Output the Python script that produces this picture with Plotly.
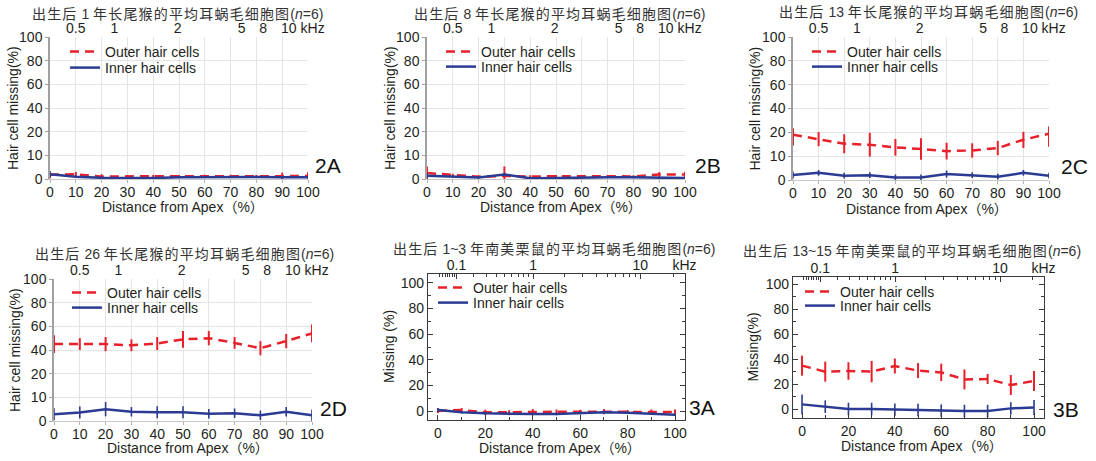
import math
import plotly.graph_objects as go

# ---------------- data ----------------
distance = [0, 10, 20, 30, 40, 50, 60, 70, 80, 90, 100]

# 2A  macaque, 1 year
a2_outer = [1.8, 2.0, 1.0, 1.2, 1.2, 1.2, 1.3, 1.3, 1.2, 1.2, 1.3]
a2_outer_err = [1.5, 1.0, 1.0, 0.5, 0.5, 0.5, 0.5, 0.5, 0.5, 1.5, 1.5]
a2_inner = [2.0, 1.0, 0.5, 0.4, 0.4, 0.7, 0.8, 0.8, 0.8, 0.7, 0.7]
a2_inner_err = [1.2, 0.5, 0.4, 0.4, 0.4, 0.4, 0.4, 0.4, 0.4, 0.4, 0.4]
# 2B  macaque, 8 years
b2_outer = [2.5, 1.6, 1.0, 1.3, 1.0, 1.2, 1.2, 1.2, 1.1, 1.9, 1.9]
b2_outer_err = [2.8, 0.6, 0.5, 4.0, 0.6, 0.5, 0.5, 0.5, 0.5, 1.0, 1.2]
b2_inner = [1.4, 0.9, 0.6, 1.9, 0.3, 0.4, 0.7, 0.7, 0.7, 0.4, 0.4]
b2_inner_err = [1.0, 0.5, 0.5, 0.8, 0.4, 0.4, 0.4, 0.4, 0.4, 0.4, 0.4]
# 2C  macaque, 13 years
c2_outer = [19.0, 17.2, 15.2, 14.8, 13.7, 13.0, 12.1, 12.4, 13.4, 16.9, 19.4]
c2_outer_err = [4.5, 3.0, 4.0, 5.0, 3.5, 4.5, 3.5, 3.0, 3.0, 3.5, 5.5]
c2_inner = [2.1, 3.0, 1.8, 2.0, 1.1, 1.1, 2.5, 2.0, 1.4, 3.0, 1.8]
c2_inner_err = [1.5, 1.2, 1.2, 1.2, 1.2, 1.2, 1.5, 1.2, 1.2, 1.2, 1.2]
# 2D  macaque, 26 years
d2_outer = [45.0, 45.0, 45.0, 44.0, 45.5, 49.0, 50.0, 46.0, 41.5, 47.5, 54.0]
d2_outer_err = [7.5, 5.0, 6.0, 5.0, 5.5, 7.0, 6.0, 5.0, 6.0, 6.0, 7.5]
d2_inner = [2.9, 3.6, 5.0, 3.9, 3.7, 3.7, 3.1, 3.3, 2.4, 3.9, 2.4]
d2_inner_err = [2.5, 2.5, 3.0, 2.0, 2.5, 2.5, 2.0, 2.0, 2.0, 2.0, 2.5]
# 3A  chinchilla, 1-3 years
a3_outer = [0.3, 0.8, -1.0, -0.8, -0.5, -0.8, -0.5, -0.5, -0.8, -0.8, -0.8]
a3_outer_err = [2.0, 1.5, 2.0, 1.5, 2.0, 2.0, 1.5, 2.0, 1.5, 2.0, 2.0]
a3_inner = [0.8, -1.0, -1.8, -2.3, -2.3, -2.3, -1.6, -1.0, -1.3, -2.0, -2.9]
a3_inner_err = [1.5, 1.0, 1.0, 1.0, 1.0, 1.0, 1.0, 1.0, 1.0, 1.0, 1.0]
# 3B  chinchilla, 13-15 years
b3_outer = [34.7, 29.9, 30.4, 29.9, 34.4, 30.7, 29.3, 23.7, 24.0, 19.2, 22.4]
b3_outer_err = [8.0, 8.0, 7.0, 8.5, 6.0, 6.0, 7.0, 8.0, 4.0, 8.0, 8.0]
b3_inner = [3.7, 1.9, 0.0, 0.0, -0.5, -0.8, -1.3, -1.6, -1.6, 0.5, 1.3]
b3_inner_err = [8.0, 5.0, 5.0, 5.0, 5.0, 5.0, 5.0, 5.0, 5.0, 5.0, 6.0]

# tick labels
monkey_y_ticks = [0, 10, 20, 40, 60, 80, 100]
monkey_freq_labels = ["0.5", "1", "2", "5", "8", "10 kHz"]
monkey_freq_pos = [10, 25, 49.5, 74.3, 82.6, 98]
chin_y_ticks = [0, 20, 40, 60, 80, 100]
chin_major_khz = [0.1, 1, 10]
chin_major_labels = ["0.1", "1", "10"]
chin_minor_khz = [0.03, 0.04, 0.05, 0.06, 0.07, 0.08, 0.09,
                  0.2, 0.3, 0.4, 0.5, 0.6, 0.7, 0.8, 0.9,
                  2, 3, 4, 5, 6, 7, 8, 9, 20]

titles = {
    "2A": "出生后 1 年长尾猴的平均耳蜗毛细胞图(<i>n</i>=6)",
    "2B": "出生后 8 年长尾猴的平均耳蜗毛细胞图(<i>n</i>=6)",
    "2C": "出生后 13 年长尾猴的平均耳蜗毛细胞图(<i>n</i>=6)",
    "2D": "出生后 26 年长尾猴的平均耳蜗毛细胞图(<i>n</i>=6)",
    "3A": "出生后 1~3 年南美栗鼠的平均耳蜗毛细胞图(<i>n</i>=6)",
    "3B": "出生后 13~15 年南美栗鼠的平均耳蜗毛细胞图(<i>n</i>=6)",
}

# ---------------- helpers ----------------
W, H = 1096, 461
RED = "#e8202a"
BLUE = "#2b3b93"
FONT = "Liberation Sans, Arial, Noto Sans CJK SC"
TXT = "#231f20"


def fx(p):
    return p / W


def fy(p):
    return 1 - p / H


def broken_scale(v):
    """Monkey panels: 0-20 spaced by 10, 20-100 spaced by 20."""
    return v / 10.0 if v <= 20 else 2 + (v - 20) / 20.0


def greenwood_pos(f_khz):
    """Chinchilla frequency-place map (% distance from apex)."""
    return 100 * math.log10(f_khz * 1000 / 163.5 + 0.85) / 2.1


def spaced(s):
    out = ""
    i = 0
    while i < len(s):
        if s[i] == "<":
            j = s.index(">", i)
            out += s[i:j + 1]
            i = j + 1
            continue
        out += s[i]
        if ord(s[i]) > 0x2E80:
            out += "\u200a"
        i += 1
    return out


panels = [
    dict(key="2A", kind="monkey", box=(50, 308, 37, 179), outer=a2_outer, oerr=a2_outer_err,
         inner=a2_inner, ierr=a2_inner_err, title_xy=(177, 14), ytitle="Hair cell missing(%)",
         ytitle_x=13, xtitle_xy=(183, 207), label_xy=(328, 165), leg=(105, 52, 68)),
    dict(key="2B", kind="monkey", box=(427, 685, 37, 179), outer=b2_outer, oerr=b2_outer_err,
         inner=b2_inner, ierr=b2_inner_err, title_xy=(559, 14), ytitle="Hair cell missing(%)",
         ytitle_x=390, xtitle_xy=(561, 207), label_xy=(708, 165), leg=(481, 52, 67)),
    dict(key="2C", kind="monkey", box=(793, 1049, 37, 180), outer=c2_outer, oerr=c2_outer_err,
         inner=c2_inner, ierr=c2_inner_err, title_xy=(928, 12), ytitle="Hair cell missing(%)",
         ytitle_x=754, xtitle_xy=(927, 209), label_xy=(1074, 166), leg=(847, 52, 67)),
    dict(key="2D", kind="monkey", box=(54, 312, 279, 421), outer=d2_outer, oerr=d2_outer_err,
         inner=d2_inner, ierr=d2_inner_err, title_xy=(184, 254), ytitle="Hair cell missing(%)",
         ytitle_x=15, xtitle_xy=(188, 448), label_xy=(333, 408), leg=(107, 293, 308)),
    dict(key="3A", kind="chin", box=(428, 685, 274, 420), xr=[-4.2, 104.2], yr=[-7, 107],
         outer=a3_outer, oerr=a3_outer_err, inner=a3_inner, ierr=a3_inner_err,
         title_xy=(554, 249), ytitle="Missing (%)", ytitle_x=389, xtitle_xy=(560, 448),
         label_xy=(702, 407), leg=(473, 288, 303)),
    dict(key="3B", kind="chin", box=(793, 1044, 277, 418), xr=[-3.9, 104.3], yr=[-7.2, 105.6],
         outer=b3_outer, oerr=b3_outer_err, inner=b3_inner, ierr=b3_inner_err,
         title_xy=(912, 251), ytitle="Missing(%)", ytitle_x=752, xtitle_xy=(922, 446),
         label_xy=(1066, 409), leg=(840, 292, 306)),
]

fig = go.Figure()
layout = dict(
    width=W, height=H, margin=dict(l=0, r=0, t=0, b=0, autoexpand=False),
    paper_bgcolor="white", plot_bgcolor="white",
    font=dict(family=FONT, size=14, color=TXT),
    annotations=[], showlegend=True,
)

leg_idx = 0
for i, p in enumerate(panels, start=1):
    x0, x1, y0, y1 = p["box"]
    xa, ya, xt = f"xaxis{i}", f"yaxis{i}", f"xaxis{i + 6}"
    xref, yref, xtref = f"x{i}", f"y{i}", f"x{i + 6}"
    monkey = p["kind"] == "monkey"

    for name, vals, errs, color, dash, thick, xaxis_ref in [
        ("Outer hair cells", p["outer"], p["oerr"], RED, "9px,6px", 2.0, xref),
        ("Inner hair cells", p["inner"], p["ierr"], BLUE, "solid", 1.6, xtref),
    ]:
        leg_idx += 1
        lname = "legend" if leg_idx == 1 else f"legend{leg_idx}"
        if monkey:
            yv = [broken_scale(v) for v in vals]
            eplus = [broken_scale(v + e) - broken_scale(v) for v, e in zip(vals, errs)]
            eminus = [broken_scale(v) - broken_scale(v - e) for v, e in zip(vals, errs)]
        else:
            yv = list(vals)
            eplus = list(errs)
            eminus = list(errs)
        fig.add_trace(go.Scatter(
            x=distance, y=yv, mode="lines", name=name, xaxis=xaxis_ref, yaxis=yref,
            line=dict(color=color, width=2.5, dash=dash),
            error_y=dict(type="data", symmetric=False, array=eplus, arrayminus=eminus,
                         color=color, thickness=thick, width=0),
            legend=lname, hoverinfo="skip",
        ))
        ly = p["leg"][1] if name.startswith("Outer") else p["leg"][2]
        layout[lname] = dict(
            x=fx(p["leg"][0] - 40), y=fy(ly), xanchor="left", yanchor="middle",
            bgcolor="rgba(0,0,0,0)", borderwidth=0, font=dict(size=14, family=FONT, color=TXT),
            itemwidth=30, tracegroupgap=0,
        )

    dom_x = [fx(x0), fx(x1)]
    dom_y = [fy(y1), fy(y0)]
    if monkey:
        layout[xa] = dict(
            domain=dom_x, anchor=yref, range=[0, 100], tickmode="array",
            tickvals=distance, ticktext=[str(v) for v in distance],
            showgrid=True, gridcolor="#e4e4e4", gridwidth=1, zeroline=False,
            showline=True, linecolor="#c8c8c8", linewidth=1,
            ticks="outside", ticklen=3, tickcolor="#b0b0b0", ticklabelstandoff=-3,
            tickfont=dict(size=14, color=TXT),
        )
        layout[ya] = dict(
            domain=dom_y, anchor=xref, range=[0, 6], tickmode="array",
            tickvals=[broken_scale(v) for v in monkey_y_ticks],
            ticktext=[str(v) for v in monkey_y_ticks],
            showgrid=True, gridcolor="#e4e4e4", gridwidth=1, zeroline=False,
            showline=True, linecolor="#a0a0a0", linewidth=1.5,
            ticks="outside", ticklen=3, tickcolor="#a0a0a0",
            tickfont=dict(size=14, color=TXT),
        )
        layout[xt] = dict(
            overlaying=xref, anchor=yref, side="top", range=[0, 100], tickmode="array",
            tickvals=monkey_freq_pos, ticktext=monkey_freq_labels,
            showgrid=False, zeroline=False, showline=False, ticks="",
            tickfont=dict(size=14, color=TXT),
        )
    else:
        layout[xa] = dict(
            domain=dom_x, anchor=yref, range=p["xr"], tickmode="array",
            tickvals=chin_y_ticks, ticktext=[str(v) for v in chin_y_ticks],
            showgrid=False, zeroline=False, showline=True, mirror=True,
            linecolor="#3a3a3a", linewidth=1.3,
            ticks="inside", ticklen=5, tickcolor="#3a3a3a",
            minor=dict(tickmode="array", tickvals=[10, 30, 50, 70, 90], ticks="inside",
                       ticklen=3, tickcolor="#3a3a3a"),
            tickfont=dict(size=14, color=TXT),
        )
        layout[ya] = dict(
            domain=dom_y, anchor=xref, range=p["yr"], tickmode="array",
            tickvals=chin_y_ticks, ticktext=[str(v) for v in chin_y_ticks],
            showgrid=False, zeroline=False, showline=True, mirror="ticks",
            linecolor="#3a3a3a", linewidth=1.3,
            ticks="inside", ticklen=5, tickcolor="#3a3a3a",
            minor=dict(tickmode="array", tickvals=[10, 30, 50, 70, 90], ticks="inside",
                       ticklen=3, tickcolor="#3a3a3a"),
            tickfont=dict(size=14, color=TXT),
        )
        major_pos = [greenwood_pos(f) for f in chin_major_khz] + [p["xr"][1] - 0.2]
        layout[xt] = dict(
            overlaying=xref, anchor=yref, side="top", range=p["xr"], tickmode="array",
            tickvals=major_pos, ticktext=chin_major_labels + ["kHz"],
            showgrid=False, zeroline=False, showline=False,
            ticks="inside", ticklen=5, tickcolor="#3a3a3a",
            minor=dict(tickmode="array",
                       tickvals=[greenwood_pos(f) for f in chin_minor_khz if greenwood_pos(f) > 0],
                       ticks="inside", ticklen=3, tickcolor="#3a3a3a"),
            tickfont=dict(size=14, color=TXT),
        )

    ann = layout["annotations"]
    ann.append(dict(text=spaced(titles[p["key"]]), x=fx(p["title_xy"][0]), y=fy(p["title_xy"][1]),
                    xref="paper", yref="paper", showarrow=False, xanchor="center", yanchor="middle",
                    font=dict(size=14, family=FONT, color="#333333")))
    ann.append(dict(text=p["ytitle"], x=fx(p["ytitle_x"]), y=fy((y0 + y1) / 2),
                    xref="paper", yref="paper", showarrow=False, textangle=-90,
                    xanchor="center", yanchor="middle", font=dict(size=14, family=FONT, color=TXT)))
    ann.append(dict(text="Distance from Apex（%）", x=fx(p["xtitle_xy"][0]), y=fy(p["xtitle_xy"][1]),
                    xref="paper", yref="paper", showarrow=False, xanchor="center", yanchor="middle",
                    font=dict(size=14, family=FONT, color=TXT)))
    ann.append(dict(text=p["key"], x=fx(p["label_xy"][0]), y=fy(p["label_xy"][1]),
                    xref="paper", yref="paper", showarrow=False, xanchor="center", yanchor="middle",
                    font=dict(size=21, family=FONT, color="#111111")))

fig.update_layout(**layout)
fig.write_html(
    "out.html",
    config={"displayModeBar": False},
    post_script="document.body.style.margin='0px';document.body.style.overflow='hidden';",
)
